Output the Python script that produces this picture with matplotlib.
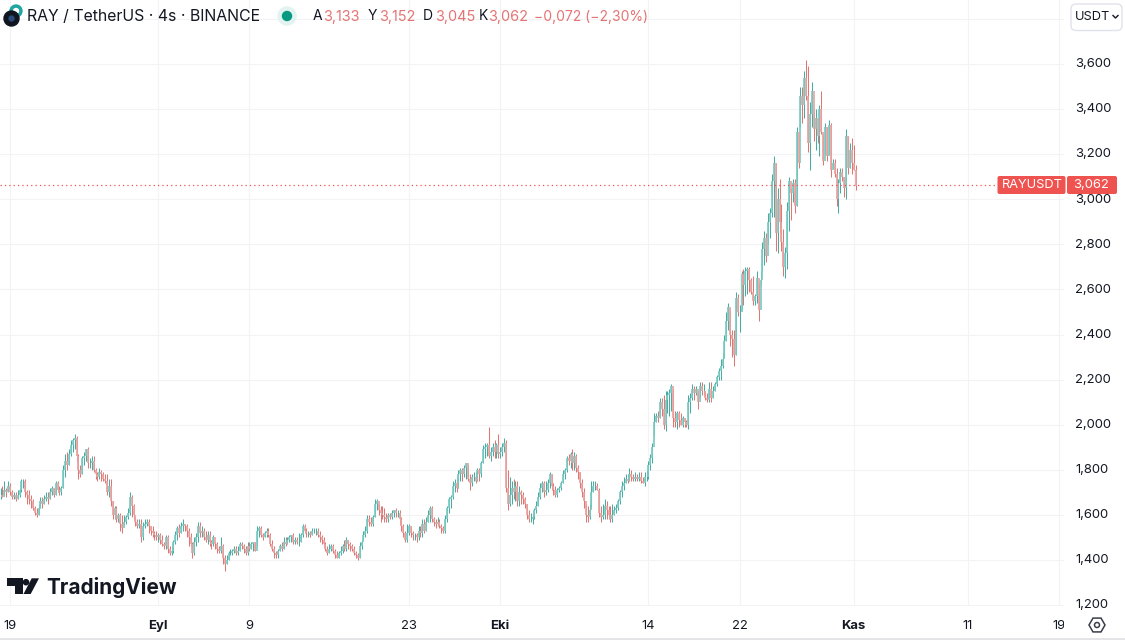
import matplotlib
matplotlib.use('Agg')
import matplotlib.pyplot as plt
import numpy as np
from matplotlib.patches import Circle, FancyBboxPatch, Polygon, Rectangle, RegularPolygon
from matplotlib.transforms import Bbox, ScaledTranslation

plt.rcParams['font.family'] = ['Inter', 'DejaVu Sans']

# 4h candles in US cents, one row per day (first row is the tail of the day before 19 Aug)
closes = [
    169,168,171,170,173,
    170,168,169,167,169,171,
    175,175,170,169,167,166,
    163,161,160,163,166,165,
    167,168,167,170,172,169,
    174,171,170,172,180,184,
    182,187,191,193,194,186,
    180,178,185,186,189,183,
    183,184,180,178,177,179,
    178,176,175,170,173,166,
    160,163,158,160,156,154,
    157,159,161,168,164,160,
    157,155,156,150,155,156,
    157,155,153,152,151,150,
    151,149,147,146,150,145,
    143,144,148,151,154,152,
    155,156,155,153,150,147,
    143,148,150,155,152,153,
    150,149,151,148,147,150,
    147,145,144,146,141,138,
    140,143,143,144,145,143,
    144,147,146,145,143,146,
    145,147,148,144,153,154,
    151,150,152,153,151,147,
    145,143,142,144,146,145,
    148,147,149,150,151,148,
    149,148,148,151,155,153,
    152,152,151,153,153,153,
    151,150,149,147,145,143,
    145,146,144,142,141,143,
    144,146,145,149,147,146,
    145,143,142,141,146,148,
    151,153,158,157,156,159,
    165,166,162,161,160,159,
    158,160,159,161,162,161,
    161,158,155,152,149,152,
    155,152,151,151,150,153,
    152,156,153,157,160,163,
    158,157,156,157,155,154,
    153,158,163,167,168,173,
    174,172,178,180,178,181,
    183,176,174,177,177,175,
    180,178,183,189,190,191,
    186,188,190,188,191,187,
    188,190,192,172,165,169,
    172,170,173,166,170,169,
    167,165,160,158,158,159,
    162,164,168,172,174,170,
    171,174,178,173,171,169,
    171,172,174,178,180,185,
    184,187,183,186,181,179,
    174,170,166,160,159,162,
    170,173,173,171,161,159,
    160,164,162,160,158,160,
    162,163,166,170,173,174,
    176,175,178,177,176,177,
    176,177,175,174,177,177,
    182,185,190,201,204,203,
    210,207,200,211,213,214,
    217,203,201,205,202,200,
    203,201,200,210,212,216,
    214,216,210,217,215,215,
    212,211,216,212,215,218,
    221,224,226,229,237,246,
    252,240,238,231,256,250,
    250,267,262,268,269,264,
    259,255,257,265,251,264,
    278,283,275,290,294,308,
    316,285,300,290,281,270,
    276,295,308,303,307,297,
    330,316,346,342,354,346,
    325,338,348,331,336,328,
    340,330,317,332,319,333,
    313,316,311,300,307,312,
    310,305,328,314,322,316,
    313,306,
]
highs = [
    172,173,175,172,175,
    174,171,170,170,171,172,
    176,176,176,171,171,169,
    167,164,163,165,168,168,
    169,170,170,172,173,172,
    175,175,173,173,182,187,
    188,189,193,194,196,195,
    187,182,186,188,189,190,
    185,186,186,181,179,181,
    180,179,178,178,176,176,
    166,164,164,161,161,160,
    160,160,163,170,169,165,
    159,158,158,158,157,158,
    158,158,155,155,153,153,
    152,152,151,148,151,151,
    146,146,149,153,155,156,
    157,158,156,156,154,152,
    148,150,152,157,157,155,
    154,153,153,153,149,151,
    148,148,146,150,147,142,
    142,144,145,145,146,146,
    146,148,148,147,146,148,
    148,148,148,148,155,155,
    155,152,153,154,154,152,
    149,146,144,145,147,148,
    150,150,150,151,151,152,
    150,150,152,152,156,156,
    154,153,153,154,154,154,
    154,153,151,150,148,146,
    147,147,147,145,144,144,
    146,147,149,150,149,148,
    147,146,144,143,148,149,
    153,155,160,160,159,160,
    167,167,165,164,164,163,
    161,161,161,162,162,163,
    162,162,159,156,153,156,
    156,155,153,152,152,155,
    155,158,158,159,162,164,
    164,159,158,159,158,156,
    155,160,164,168,169,175,
    176,177,180,181,181,182,
    183,182,178,178,179,179,
    181,181,184,191,192,192,
    199,190,192,193,192,196,
    190,192,194,193,180,177,
    175,176,175,175,173,171,
    170,168,165,162,161,161,
    163,166,170,174,175,175,
    175,176,179,178,174,173,
    172,173,175,180,181,186,
    187,188,189,188,187,182,
    179,176,172,165,164,165,
    175,175,175,174,172,164,
    165,167,166,164,164,165,
    164,165,167,171,175,177,
    178,178,181,180,178,179,
    178,179,179,177,179,180,
    184,187,192,205,205,206,
    212,212,213,215,215,216,
    218,216,206,206,206,205,
    204,203,202,213,214,218,
    217,217,215,219,219,218,
    215,214,219,219,217,219,
    222,225,229,232,240,250,
    254,251,242,242,259,258,
    253,268,269,270,270,270,
    265,266,258,268,263,268,
    281,286,285,294,296,311,
    319,316,305,309,298,287,
    279,299,310,305,309,309,
    332,327,350,350,357,362,
    359,343,352,340,340,334,
    342,348,329,334,332,335,
    334,318,318,314,309,314,
    314,310,331,328,325,327,
    324,315,
]
lows = [
    167,168,169,168,170,
    169,167,167,166,167,168,
    170,172,168,165,165,163,
    162,160,159,160,163,163,
    165,166,165,167,169,168,
    169,170,169,169,172,177,
    180,182,186,188,189,184,
    176,177,178,182,184,181,
    181,180,179,176,175,176,
    175,175,174,169,168,164,
    158,158,157,157,153,152,
    155,156,158,160,159,158,
    155,154,154,148,149,154,
    155,152,151,150,149,149,
    148,147,146,145,145,143,
    142,142,143,147,149,150,
    152,153,153,150,146,146,
    141,142,146,148,150,150,
    149,148,147,146,145,146,
    145,143,143,143,138,135,
    138,140,142,142,143,142,
    142,144,145,143,142,142,
    144,145,144,144,146,150,
    150,149,150,150,150,146,
    144,141,141,141,144,144,
    145,146,147,148,148,147,
    147,147,146,148,150,152,
    150,150,150,151,152,151,
    150,148,147,146,144,142,
    143,144,143,141,141,141,
    142,143,144,144,145,144,
    144,142,141,140,141,145,
    149,150,152,155,155,155,
    159,162,160,157,158,157,
    157,157,158,158,159,159,
    159,156,153,150,148,148,
    151,150,149,149,148,149,
    150,150,152,153,157,157,
    157,155,154,155,154,152,
    152,152,157,161,163,167,
    170,170,172,175,175,177,
    176,175,171,173,175,174,
    175,175,177,183,185,186,
    185,184,186,185,185,185,
    185,186,188,170,162,164,
    165,167,166,164,164,165,
    165,163,158,157,157,156,
    158,161,164,167,170,168,
    169,170,172,171,169,168,
    168,170,171,174,176,179,
    182,181,180,180,179,176,
    172,168,163,157,157,158,
    163,170,171,171,159,157,
    158,158,158,158,157,157,
    160,161,162,165,168,171,
    174,174,175,175,175,175,
    175,175,174,174,173,175,
    176,180,183,195,201,201,
    203,204,198,197,205,204,
    206,199,199,198,199,200,
    199,199,199,198,205,211,
    211,213,207,212,213,213,
    211,210,210,210,212,215,
    217,220,220,225,230,237,
    242,235,230,226,231,248,
    241,251,253,257,258,259,
    258,253,253,254,246,262,
    268,271,272,280,283,292,
    292,277,276,285,277,266,
    265,269,286,291,299,294,
    297,314,332,334,336,344,
    321,313,332,326,322,325,
    319,329,315,320,317,320,
    310,314,310,297,294,303,
    308,301,300,311,314,311,
    313,304,
]

last_price = 3.062
tick_days = [0, 13, 21, 35, 43, 56, 64, 74, 84, 92]
tick_labels = ['19', 'Eyl', '9', '23', 'Eki', '14', '22', 'Kas', '11', '19']
bold_labels = ['Eyl', 'Eki', 'Kas']
price_ticks = [1.2, 1.4, 1.6, 1.8, 2.0, 2.2, 2.4, 2.6, 2.8, 3.0, 3.2, 3.4, 3.6, 3.8]
price_labels = ['1,200', '1,400', '1,600', '1,800', '2,000', '2,200', '2,400', '2,600',
                '2,800', '3,000', '3,200', '3,400', '3,600', '']

TEXT = '#131722'
GRID = '#f3f3f5'
UP = '#2a9d91'
DOWN = '#d9605c'
BADGE = '#ef5350'
RED_TEXT = '#e57373'

c = np.array(closes) / 100
h = np.array(highs) / 100
l = np.array(lows) / 100
o = np.r_[c[0], c[:-1]]
days = (np.arange(len(c)) - 5) / 6
up = c >= o

fig = plt.figure(figsize=(11.25, 6.4), dpi=100)
ax = fig.add_axes([0, 34 / 640, 1064 / 1125, 606 / 640])
ax.set_xlim(-10 / 11.4, 1054 / 11.4)
ax.set_ylim(1.1956, 3.884)
ax.grid(True, color=GRID, linewidth=0.75)
ax.set_axisbelow(True)
for s in ax.spines.values():
    s.set_visible(False)

ax.vlines(days[up], l[up], h[up], color=UP, linewidth=0.75, alpha=0.85)
ax.vlines(days[~up], l[~up], h[~up], color=DOWN, linewidth=0.75, alpha=0.85)
ax.vlines(days[up], np.minimum(o, c)[up], np.maximum(o, c)[up], color='#7ccbc3', linewidth=1.25)
ax.vlines(days[~up], np.minimum(o, c)[~up], np.maximum(o, c)[~up], color='#e9a3a1', linewidth=1.25)

ax.axhline(last_price, color=BADGE, linestyle=(0, (1, 2.5)), linewidth=0.9)

ax.yaxis.tick_right()
ax.set_yticks(price_ticks)
ax.set_yticklabels(price_labels, fontsize=9.4, color=TEXT)
ax.set_xticks(tick_days)
ax.set_xticklabels(tick_labels, fontsize=9.4, color=TEXT)
ax.tick_params(axis='both', length=0)
ax.tick_params(axis='y', pad=7.9)
ax.tick_params(axis='x', pad=10.2)
for lab in ax.get_xticklabels():
    lab.set_clip_box(Bbox([[0, 0], [1064, 640]]))
    lab.set_clip_on(True)
    if lab.get_text() in bold_labels:
        lab.set_fontweight('bold')
# price labels sit a pixel above their gridline
nudge = ScaledTranslation(0, 1.2 / 100, fig.dpi_scale_trans)
for lab in ax.get_yticklabels():
    lab.set_transform(lab.get_transform() + nudge)

# everything around the chart, in image pixels
top = fig.add_axes([0, 0, 1, 1])
top.set_xlim(0, 1125)
top.set_ylim(640, 0)
top.axis('off')
top.patch.set_alpha(0)

# header
top.add_patch(Circle((16, 11), 6, color='#1fa6a0'))
top.add_patch(Circle((16, 11), 2.5, color='white'))
top.add_patch(Circle((11.5, 18.5), 7.5, color='#10151f'))
top.add_patch(Circle((11.5, 18.5), 2.5, color='#2a4a78'))
top.text(27, 16.5, 'RAY / TetherUS · 4s · BINANCE', fontsize=11.4, color=TEXT, va='center')
top.add_patch(Circle((287, 16), 9, color='#e3f3f1'))
top.add_patch(Circle((287, 16), 4.5, color='#089981'))
ohlc_letters = ['A', 'Y', 'D', 'K']
ohlc_values = ['3,133', '3,152', '3,045', '3,062']
letter_x = [313, 368, 423, 479]
value_x = [323, 379, 435, 488]
for s, x in zip(ohlc_letters, letter_x):
    top.text(x, 16.5, s, fontsize=10, color=TEXT, va='center')
for s, x in zip(ohlc_values, value_x):
    top.text(x, 16.5, s, fontsize=10.4, color=RED_TEXT, va='center')
top.text(534, 16.5, '−0,072 (−2,30%)', fontsize=10, color=RED_TEXT, va='center')

# currency button
top.add_patch(FancyBboxPatch((1071, 4), 51, 26.5, boxstyle='round,pad=0,rounding_size=5',
                             fc='white', ec='#e0e3eb', linewidth=1))
top.text(1074.5, 17, 'USDT', fontsize=9.2, color=TEXT, va='center')
top.plot([1113, 1115.5, 1118], [15.5, 18, 15.5], color=TEXT, linewidth=1)

# last price badge
top.add_patch(FancyBboxPatch((997.5, 176), 68, 18, boxstyle='round,pad=0,rounding_size=2',
                             fc=BADGE, ec='none'))
top.add_patch(FancyBboxPatch((1067, 176), 50, 18, boxstyle='round,pad=0,rounding_size=2',
                             fc=BADGE, ec='none'))
top.text(1032, 185.5, 'RAYUSDT', fontsize=9.2, color='white', ha='center', va='center')
top.text(1091, 185.5, '3,062', fontsize=9.4, color='white', ha='center', va='center')

# watermark
top.add_patch(Polygon([(7.3, 578.3), (22.7, 578.3), (22.7, 594), (15, 594), (15, 585.7), (7.3, 585.7)],
                      color=TEXT, linewidth=0))
top.add_patch(Circle((26, 582.2), 3.3, color=TEXT, linewidth=0))
top.add_patch(Polygon([(31.7, 578.3), (39, 578.3), (30.7, 594), (23.5, 594)], color=TEXT, linewidth=0))
top.text(46.5, 587, 'TradingView', fontsize=15, fontweight='bold', color=TEXT, va='center')

# settings icon and bottom edge
top.add_patch(RegularPolygon((1097, 625), 6, radius=8, orientation=np.pi / 2, fill=False,
                             ec='#3a3e4a', linewidth=1.1))
top.add_patch(Circle((1097, 625), 2.5, fill=False, ec='#3a3e4a', linewidth=1.1))
top.add_patch(Rectangle((0, 637.5), 1125, 2.5, color='#e4e4e6', linewidth=0))

fig.savefig('out.png', dpi=100)
